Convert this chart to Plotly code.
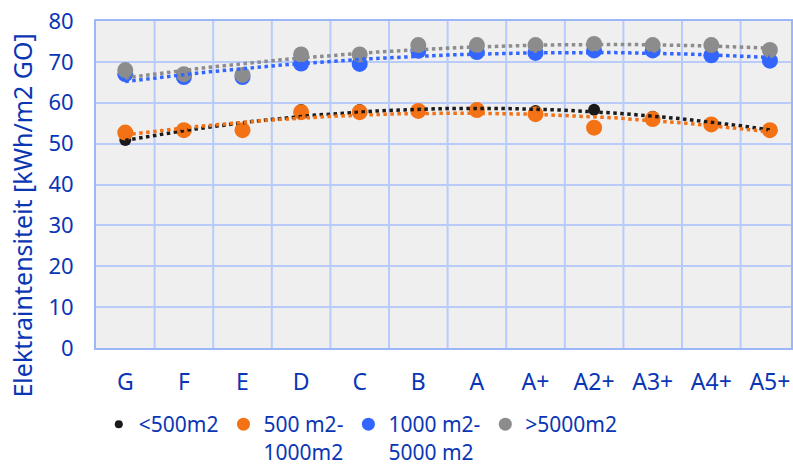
import numpy as np
import plotly.graph_objects as go

labels = ["G", "F", "E", "D", "C", "B", "A", "A+", "A2+", "A3+", "A4+", "A5+"]

lt500 = [50.9, 53.3, 53.6, 58.2, 58.2, 58.2, 58.3, 58.0, 58.3, 56.6, 55.0, 53.6]
m500_1000 = [52.7, 53.3, 53.3, 57.7, 57.7, 58.0, 58.2, 57.2, 53.9, 56.0, 54.7, 53.3]
m1000_5000 = [67.0, 66.3, 66.3, 69.6, 69.5, 72.7, 72.4, 72.2, 72.8, 72.8, 71.6, 70.3]
gt5000 = [68.0, 67.0, 66.8, 71.8, 71.8, 74.1, 74.1, 74.1, 74.4, 74.1, 74.1, 72.9]

series = [
    ("<500m2", lt500, "#1a1a1a", 12, 8),
    ("500 m2-<br>1000m2", m500_1000, "#f47216", 16, 13),
    ("1000 m2-<br>5000 m2", m1000_5000, "#3366ff", 16, 13),
    (">5000m2", gt5000, "#8c8c8c", 16, 13),
]

text_col = "#0a36b4"
x = np.arange(len(labels))

fig = go.Figure()

# markers first
for name, vals, col, size, legsize in series:
    fig.add_trace(go.Scatter(x=x, y=vals, mode="markers", name=name,
                             marker=dict(color=col, size=size), showlegend=False))

# excel style 2nd order poly trendlines on top
for name, vals, col, size, legsize in series:
    p = np.polyfit(x, vals, 2)
    xs = np.linspace(0, len(labels) - 1, 200)
    fig.add_trace(go.Scatter(x=xs, y=np.polyval(p, xs), mode="lines",
                             line=dict(color=col, width=3.5, dash="dot"),
                             showlegend=False, hoverinfo="skip"))

# legend-only entries (smaller symbols like the original)
for name, vals, col, size, legsize in series:
    fig.add_trace(go.Scatter(x=[None], y=[None], mode="markers", name=name,
                             marker=dict(color=col, size=legsize)))

fig.update_layout(
    width=793, height=472,
    margin=dict(l=96, r=0, t=21, b=123),
    paper_bgcolor="white", plot_bgcolor="#efefef",
    font=dict(family="Noto Sans", size=22, color=text_col),
    legend=dict(orientation="h", x=0.004, xanchor="left", y=-0.172, yanchor="top",
                font=dict(size=21, color=text_col), itemwidth=30, valign="top",
                tracegroupgap=0, traceorder="normal"),
    xaxis=dict(tickmode="array", tickvals=x, ticktext=labels,
               range=[-0.5, 11.36], showgrid=False, tickfont=dict(size=23),
               ticks="outside", ticklen=12, tickcolor="rgba(0,0,0,0)",
               showline=True, linecolor="#9db6f5", linewidth=2, mirror=True,
               zeroline=False),
    yaxis=dict(range=[0, 80], dtick=10, gridcolor="#b8cbfa", gridwidth=2,
               ticks="outside", ticklen=16, tickcolor="rgba(0,0,0,0)",
               showline=True, linecolor="#9db6f5", linewidth=2, mirror=True,
               zeroline=False),
    annotations=[dict(text="Elektraintensiteit [kWh/m2 GO]", textangle=-90,
                      xref="paper", yref="paper", x=-0.106, y=0.406,
                      xanchor="center", yanchor="middle", showarrow=False,
                      font=dict(size=25, color=text_col))],
)

# vertical grid lines between categories
for b in np.arange(0.5, 11, 1.0):
    fig.add_shape(type="line", x0=b, x1=b, y0=0, y1=80, xref="x", yref="y",
                  line=dict(color="#b8cbfa", width=2), layer="below")

fig.write_html("out.html", config={"displayModeBar": False},
               post_script="document.body.style.margin='0';")
